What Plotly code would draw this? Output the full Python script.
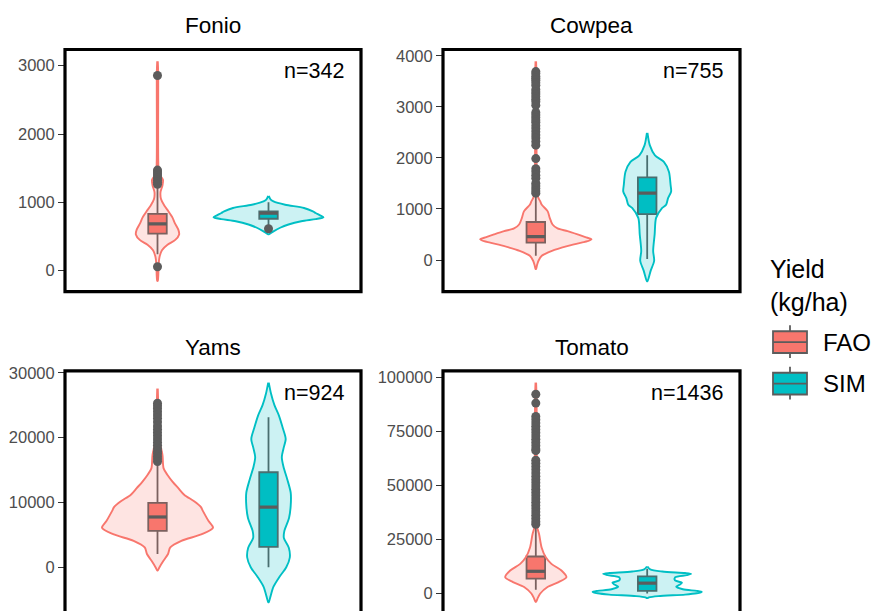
import plotly.graph_objects as go

# ---------------- data ----------------
crops = ["Fonio", "Cowpea", "Yams", "Tomato"]
n_obs = [342, 755, 924, 1436]
sources = ["FAO", "SIM"]

# violin outlines: yield levels (kg/ha) and relative density (% of widest violin)
fonio_fao_y = [3064, 2900, 1600, 1420, 1330, 1250, 1150, 1050, 950, 870, 780, 700, 600, 530, 450, 380, 300, 200, 100, -150]
fonio_fao_d = [0.5, 1.2, 1.4, 2.7, 9.8, 9, 5.4, 6.3, 12.5, 19.6, 26.8, 31, 37.5, 39, 32, 18, 8, 3.6, 2.1, 0.5]
fonio_sim_y = [1095, 1040, 1013, 965, 917, 868, 844, 810, 781, 755, 724, 676, 628, 575, 531]
fonio_sim_d = [0.5, 4, 9, 30, 64, 80, 85, 93, 99, 85, 59, 36, 21, 9, 0.5]

cowpea_fao_y = [3890, 3500, 1400, 1277, 1213, 1148, 1084, 954, 826, 697, 620, 567, 503, 450, 406, 370, 342, 277, 181, 84, -13, -100, -174]
cowpea_fao_d = [0.5, 1.4, 1.8, 3, 4.8, 8, 10.7, 21.4, 25, 30, 39, 57, 75, 89, 100, 93, 82, 58, 29, 10.7, 4.8, 2.1, 0.5]
cowpea_sim_y = [2490, 2245, 2051, 1922, 1728, 1471, 1342, 1213, 1084, 1020, 826, 503, 180, -13, -207, -413]
cowpea_sim_d = [0.5, 4.8, 14, 30, 39, 42, 43, 37.5, 34, 27, 16, 13.4, 10.7, 12.5, 6.3, 0.5]

yams_fao_y = [27560, 25000, 20000, 17290, 15250, 14240, 13220, 12200, 11190, 10170, 9300, 8650, 7120, 6100, 5090, 4070, 3050, 2040, 1020, 0, -500]
yams_fao_d = [0.5, 1.4, 2.7, 9, 11, 18, 27, 37.5, 48, 66, 78, 82, 92, 100, 80, 43, 23, 19, 11, 3.6, 0.5]
yams_sim_y = [28480, 26800, 25000, 23400, 21400, 19800, 18300, 17000, 15500, 13500, 11500, 9500, 7600, 5600, 4500, 3000, 1500, 0, -1500, -3000, -4500, -5400]
yams_sim_d = [0.5, 4.5, 10.7, 18.8, 26, 31, 27, 24, 27, 34, 40, 40, 37, 28.6, 27.7, 36.6, 38.4, 32, 19.6, 9, 3.6, 0.5]

tomato_fao_y = [97700, 90000, 35000, 30500, 27500, 21350, 16770, 13740, 10670, 7600, 5310, 3020, 0, -2000, -3850]
tomato_fao_d = [0.5, 1.4, 2.1, 2.7, 5.9, 10.4, 17.9, 28, 46, 55, 41, 21, 8, 3.6, 0.5]
tomato_sim_y = [12500, 11200, 10200, 9500, 9100, 8500, 7500, 6100, 5000, 4200, 3200, 2000, 1200, 700, 100, -500, -1200, -1800, -2100]
tomato_sim_d = [0.5, 5.4, 27, 68, 79, 71, 50, 50, 62.5, 59, 52, 64, 89, 98, 89, 68, 20, 3, 0.5]

# box statistics: [lower whisker, Q1, median, Q3, upper whisker]
fonio_fao_box = [241, 541, 685, 832, 1240]
fonio_sim_box = [650, 760, 840, 868, 1000]
cowpea_fao_box = [83, 342, 460, 745, 1340]
cowpea_sim_box = [19, 900, 1310, 1620, 2051]
yams_fao_box = [2040, 5600, 7750, 9920, 16000]
yams_sim_box = [0, 3150, 9260, 14650, 23140]
tomato_fao_box = [1800, 6870, 10300, 17150, 32000]
tomato_sim_box = [0, 1200, 4800, 7930, 11450]

# outliers
fonio_fao_out = [2857, 1472, 1445, 1415, 1385, 1355, 1325, 1295, 1265, 58]
fonio_sim_out = [613]
cowpea_fao_out = [3690, 3650, 3600, 3560, 3520, 3470, 3420, 3340, 3290, 3250, 3200, 3150, 3100, 3030,
                  2890, 2840, 2790, 2740, 2700, 2630, 2570, 2510, 2450, 2390, 2320, 2250,
                  1987, 1790, 1730, 1660, 1600, 1505, 1450, 1400, 1350, 1310]
cowpea_sim_out = []
yams_fao_out = [25300, 24900, 24500, 24000, 23500, 23000, 22400, 21800, 21300, 20800, 20300, 19800,
                19300, 18800, 18300, 17900, 17500, 17100, 16700, 16300]
yams_sim_out = []
tomato_fao_out = [92350, 88230, 82000, 80500, 79000, 77500, 76000, 74500, 73000, 71500, 70000, 68500, 67000, 66200,
                  61800, 60300, 58800, 57300, 55800, 54300, 52800, 51300, 49800, 48300, 46800, 45300,
                  43800, 42300, 40800, 39300, 37800, 36300, 34800, 33300, 32100]
tomato_sim_out = []

y_tickvals = [[0, 1000, 2000, 3000], [0, 1000, 2000, 3000, 4000],
              [0, 10000, 20000, 30000], [0, 25000, 50000, 75000, 100000]]
y_ranges = [[-308, 3237], [-619, 4122], [-6757, 30310], [-8100, 103200]]

violins = {
    "Fonio": [(fonio_fao_y, fonio_fao_d), (fonio_sim_y, fonio_sim_d)],
    "Cowpea": [(cowpea_fao_y, cowpea_fao_d), (cowpea_sim_y, cowpea_sim_d)],
    "Yams": [(yams_fao_y, yams_fao_d), (yams_sim_y, yams_sim_d)],
    "Tomato": [(tomato_fao_y, tomato_fao_d), (tomato_sim_y, tomato_sim_d)],
}
boxes = {
    "Fonio": [fonio_fao_box, fonio_sim_box],
    "Cowpea": [cowpea_fao_box, cowpea_sim_box],
    "Yams": [yams_fao_box, yams_sim_box],
    "Tomato": [tomato_fao_box, tomato_sim_box],
}
outliers = {
    "Fonio": [fonio_fao_out, fonio_sim_out],
    "Cowpea": [cowpea_fao_out, cowpea_sim_out],
    "Yams": [yams_fao_out, yams_sim_out],
    "Tomato": [tomato_fao_out, tomato_sim_out],
}

# ---------------- styling ----------------
W, H = 872, 611
FONT = "Liberation Sans, Arial, Helvetica, sans-serif"
colors = {"FAO": "#F8766D", "SIM": "#00BFC4"}
fills = {"FAO": "rgba(248,118,109,0.2)", "SIM": "rgba(0,191,196,0.2)"}
GRAY = "#5C5C5C"
DODGE = 0.225
MAX_HALF = 0.225
BOX_W = 0.075
positions = {"FAO": 1 - DODGE, "SIM": 1 + DODGE}

# panel pixel boxes (left, right, top, bottom)
panels = [(65, 361, 43, 288), (443, 740, 43, 288), (65, 361, 368, 611), (443, 740, 368, 611)]

fig = go.Figure()
layout_axes = {}
shapes = []
annotations = []

for i, crop in enumerate(crops):
    k = i + 1
    xa = "x" if k == 1 else f"x{k}"
    ya = "y" if k == 1 else f"y{k}"
    l, r, t, b = panels[i]
    xdom = [l / W, r / W]
    ydom = [max(0.0, (H - b) / H), (H - t) / H]

    # violins
    for j, src in enumerate(sources):
        ys, ds = violins[crop][j]
        c = positions[src]
        hw = [d / 100 * MAX_HALF for d in ds]
        xs = [c + h for h in hw] + [c - h for h in reversed(hw)]
        yy = list(ys) + list(reversed(ys))
        fig.add_trace(go.Scatter(
            x=xs, y=yy, mode="lines", fill="toself", fillcolor=fills[src],
            line=dict(color=colors[src], width=1.9, shape="spline", smoothing=0.8),
            xaxis=xa, yaxis=ya, showlegend=False, hoverinfo="skip"))
    # boxes
    for j, src in enumerate(sources):
        lf, q1, med, q3, uf = boxes[crop][j]
        fig.add_trace(go.Box(
            x=[positions[src]], q1=[q1], median=[med], q3=[q3],
            lowerfence=[lf], upperfence=[uf], width=BOX_W,
            fillcolor=colors[src], line=dict(color=GRAY, width=1.8),
            whiskerwidth=0, boxpoints=False, name=src,
            xaxis=xa, yaxis=ya, showlegend=False))
        # thicker median bar (as in ggplot's fattened median)
        fig.add_trace(go.Scatter(
            x=[positions[src] - BOX_W / 2, positions[src] + BOX_W / 2], y=[med, med],
            mode="lines", line=dict(color=GRAY, width=3.2),
            xaxis=xa, yaxis=ya, showlegend=False, hoverinfo="skip"))
    # outliers
    for j, src in enumerate(sources):
        out = outliers[crop][j]
        if out:
            fig.add_trace(go.Scatter(
                x=[positions[src]] * len(out), y=out, mode="markers",
                marker=dict(color=GRAY, size=9, line=dict(width=0)),
                xaxis=xa, yaxis=ya, showlegend=False, hoverinfo="skip"))

    layout_axes["xaxis" if k == 1 else f"xaxis{k}"] = dict(
        domain=xdom, range=[0.4, 1.6], showticklabels=False, ticks="",
        showgrid=False, zeroline=False, showline=False, anchor=ya, fixedrange=True)
    layout_axes["yaxis" if k == 1 else f"yaxis{k}"] = dict(
        domain=ydom, range=y_ranges[i], tickvals=y_tickvals[i],
        ticktext=[str(v) for v in y_tickvals[i]],
        ticks="outside", ticklen=6, tickwidth=1.2, tickcolor="#333333",
        tickfont=dict(family=FONT, size=16.5, color="#4D4D4D"),
        showgrid=False, zeroline=False, showline=False, anchor=xa, fixedrange=True)

    # panel border
    y0 = ydom[0] if b < H else -0.02
    shapes.append(dict(type="rect", xref="paper", yref="paper",
                       x0=xdom[0], x1=xdom[1], y0=y0, y1=ydom[1],
                       line=dict(color="black", width=3.2), layer="above"))
    # panel title
    annotations.append(dict(text=crop, xref="paper", yref="paper",
                            x=(l + r) / 2 / W, y=(H - (t - 24)) / H,
                            xanchor="center", yanchor="middle", showarrow=False,
                            font=dict(family=FONT, size=22.5, color="black")))
    # n label
    annotations.append(dict(text=f"n={n_obs[i]}", xref="paper", yref="paper",
                            x=(r - 15) / W, y=(H - (t + 22)) / H,
                            xanchor="right", yanchor="middle", showarrow=False,
                            font=dict(family=FONT, size=21.5, color="black")))

# ---------------- manual legend ----------------
annotations.append(dict(text="Yield<br>(kg/ha)", xref="paper", yref="paper",
                        x=768 / W, y=(H - 249) / H, xanchor="left", yanchor="top",
                        align="left", showarrow=False,
                        font=dict(family=FONT, size=25, color="black")))
key_centers = {"FAO": 339, "SIM": 381}
for src in sources:
    cy = key_centers[src]
    kx0, kx1, kxm = 773, 807, 790
    shapes.append(dict(type="line", xref="paper", yref="paper",
                       x0=kxm / W, x1=kxm / W, y0=(H - (cy - 17)) / H, y1=(H - (cy + 16)) / H,
                       line=dict(color=GRAY, width=1.8)))
    shapes.append(dict(type="rect", xref="paper", yref="paper",
                       x0=kx0 / W, x1=kx1 / W, y0=(H - (cy - 11)) / H, y1=(H - (cy + 11)) / H,
                       fillcolor=colors[src], line=dict(color=GRAY, width=1.8)))
    shapes.append(dict(type="line", xref="paper", yref="paper",
                       x0=kx0 / W, x1=kx1 / W, y0=(H - cy) / H, y1=(H - cy) / H,
                       line=dict(color=GRAY, width=1.8)))
    annotations.append(dict(text=src, xref="paper", yref="paper",
                            x=821 / W, y=(H - cy) / H, xanchor="left", yanchor="middle",
                            showarrow=False, font=dict(family=FONT, size=24, color="black")))

fig.update_layout(
    width=W, height=H, margin=dict(l=0, r=0, t=0, b=0),
    paper_bgcolor="white", plot_bgcolor="white",
    showlegend=False, boxmode="overlay", hovermode=False,
    shapes=shapes, annotations=annotations, **layout_axes)

fig.write_html("out.html", config={"displayModeBar": False},
               post_script="document.body.style.margin='0px';document.body.style.overflow='hidden';")
